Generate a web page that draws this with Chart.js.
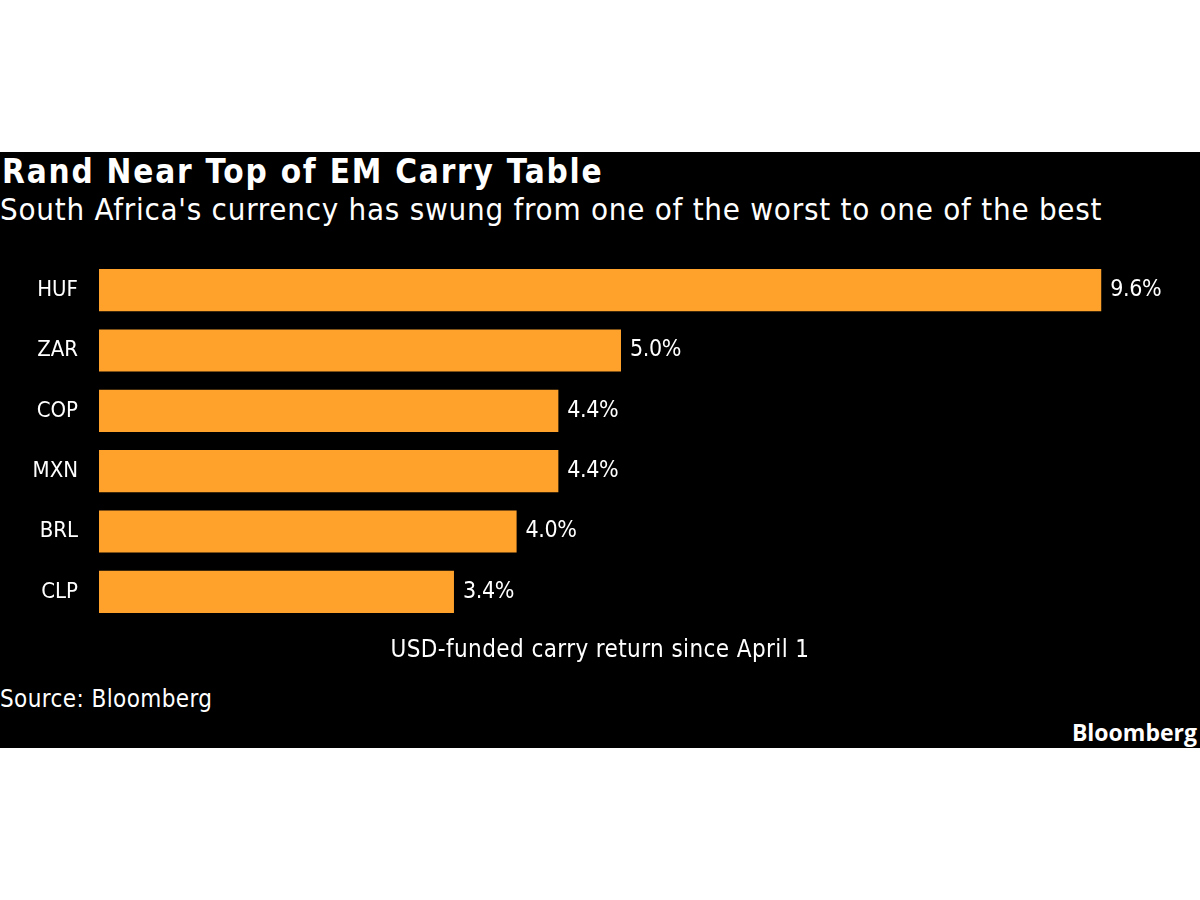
<!DOCTYPE html>
<html>
<head>
<meta charset="utf-8">
<script src="https://cdn.jsdelivr.net/npm/chart.js"></script>
<style>
  body { margin: 0; background: #fff; width: 1200px; height: 900px; position: relative; overflow: hidden; }
  #panel { position: absolute; left: 0; top: 152px; width: 1200px; height: 596px; background: #000; }
  #chartBox { position: absolute; left: 0; top: 0; width: 1200px; height: 530px; }
  .txt { position: absolute; color: #fff; font-family: 'DejaVu Sans Condensed', 'DejaVu Sans', sans-serif; white-space: nowrap; }
  #title { left: 2px; top: 0; font-size: 33px; font-weight: bold; letter-spacing: 1.8px; }
  #subtitle { left: 0; top: 39px; font-size: 31px; letter-spacing: 0.75px; }
  #axisTitle { left: 0; width: 1200px; top: 483px; text-align: center; font-size: 24px; letter-spacing: 0.4px; }
  #source { left: 0; top: 533px; font-size: 24px; letter-spacing: 0.4px; }
  #logo { right: 3px; top: 564px; font-size: 23px; font-weight: bold; font-family: 'Open Sans', 'Noto Sans', sans-serif; }
</style>
</head>
<body>
<div id="panel">
  <div id="title" class="txt">Rand Near Top of EM Carry Table</div>
  <div id="subtitle" class="txt">South Africa's currency has swung from one of the worst to one of the best</div>
  <div id="chartBox"><canvas id="chart"></canvas></div>
  <div id="axisTitle" class="txt"></div>
  <div id="source" class="txt">Source: Bloomberg</div>
  <div id="logo" class="txt">Bloomberg</div>
</div>
<script>
const currencies = ['HUF', 'ZAR', 'COP', 'MXN', 'BRL', 'CLP'];
const carryReturn = [9.6, 5.0, 4.4, 4.4, 4.0, 3.4];
const axisTitle = 'USD-funded carry return since April 1';

const labelFont = "'DejaVu Sans Condensed', 'DejaVu Sans', sans-serif";

// axis title sits centred on the whole panel, not the plot area
document.getElementById('axisTitle').textContent = axisTitle;

// draw the value at the end of each bar
const valueLabels = {
  id: 'valueLabels',
  afterDatasetsDraw(chart) {
    const ctx = chart.ctx;
    const meta = chart.getDatasetMeta(0);
    ctx.save();
    ctx.fillStyle = '#fff';
    ctx.font = '23px ' + labelFont;
    ctx.letterSpacing = '-0.4px';
    ctx.textBaseline = 'middle';
    ctx.textAlign = 'left';
    meta.data.forEach((bar, i) => {
      ctx.fillText(carryReturn[i].toFixed(1) + '%', bar.x + 9, bar.y);
    });
    ctx.restore();
  }
};

new Chart(document.getElementById('chart'), {
  type: 'bar',
  data: {
    labels: currencies,
    datasets: [{
      data: carryReturn,
      backgroundColor: '#ffa22c',
      barPercentage: 0.7,
      categoryPercentage: 1
    }]
  },
  options: {
    indexAxis: 'y',
    responsive: true,
    maintainAspectRatio: false,
    animation: false,
    layout: { padding: { top: 108, right: 57, bottom: 0, left: 0 } },
    plugins: {
      legend: { display: false },
      tooltip: { enabled: false }
    },
    scales: {
      x: {
        min: 0,
        max: 10,
        grid: { display: false, drawTicks: false },
        border: { display: false },
        ticks: { display: false },
        afterFit(scale) { scale.height = 60; }
      },
      y: {
        grid: { display: false, drawTicks: false },
        border: { display: false },
        ticks: {
          color: '#fff',
          font: { family: labelFont, size: 22 },
          padding: 21
        },
        afterFit(scale) { scale.width = 99; }
      }
    }
  },
  plugins: [valueLabels]
});
</script>
</body>
</html>
